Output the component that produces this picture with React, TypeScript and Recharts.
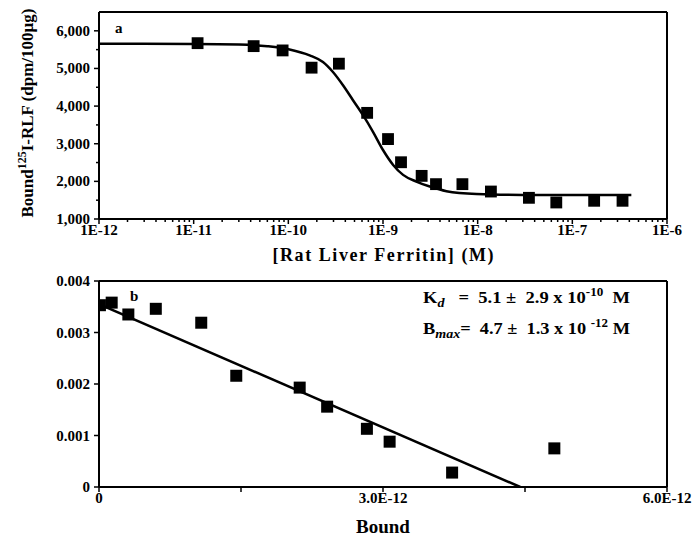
import React from "react";
import { ComposedChart, Scatter, Line, XAxis, YAxis, ZAxis, ReferenceLine } from "recharts";

// ---------- Panel a : displacement curve ----------
const ferritinConc = [1.1e-11, 4.3e-11, 8.7e-11, 1.76e-10, 3.42e-10, 6.8e-10, 1.13e-9, 1.55e-9, 2.56e-9, 3.63e-9, 6.9e-9, 1.38e-8, 3.48e-8, 6.77e-8, 1.7e-7, 3.39e-7];
const boundDpm = [5672, 5593, 5479, 5021, 5127, 3820, 3124, 2508, 2146, 1926, 1926, 1730, 1563, 1439, 1484, 1484];
const fitConc = [1e-12, 1e-11, 3e-11, 6e-11, 1.03e-10, 1.68e-10, 2.32e-10, 2.96e-10, 3.78e-10, 4.82e-10, 6.15e-10, 7.84e-10, 1.0e-9, 1.28e-9, 1.63e-9, 2.25e-9, 3.12e-9, 4.68e-9, 9.7e-9, 3e-8, 1e-7, 4.2e-7];
const fitDpm = [5655, 5650, 5635, 5590, 5505, 5347, 5170, 4905, 4553, 4156, 3759, 3317, 2833, 2437, 2172, 1995, 1862, 1740, 1665, 1640, 1635, 1635];
const topXMajor = [1e-12, 1e-11, 1e-10, 1e-9, 1e-8, 1e-7, 1e-6];
const topXLabels = ["1E-12", "1E-11", "1E-10", "1E-9", "1E-8", "1E-7", "1E-6"];
const topYMajor = [1000, 2000, 3000, 4000, 5000, 6000];
const topYLabels = ["1,000", "2,000", "3,000", "4,000", "5,000", "6,000"];
const topYMinor = [1500, 2500, 3500, 4500, 5500];

// ---------- Panel b : Scatchard ----------
const scatBound = [0.01e-12, 0.134e-12, 0.31e-12, 0.6e-12, 1.08e-12, 1.45e-12, 2.12e-12, 2.41e-12, 2.83e-12, 3.07e-12, 3.73e-12, 4.81e-12];
const scatRatio = [0.00353, 0.00358, 0.00335, 0.00346, 0.00319, 0.00216, 0.00193, 0.00156, 0.00113, 0.00088, 0.00028, 0.00075];
const fitBound = [0, 4.45e-12];
const fitRatio = [0.00355, 0];
const botXTicks = [0, 1.5e-12, 3e-12, 4.5e-12, 6e-12];
const botXLabels = ["0", "", "3.0E-12", "", "6.0E-12"];
const botYTicks = [0, 0.001, 0.002, 0.003, 0.004];
const botYLabels = ["0", "0.001", "0.002", "0.003", "0.004"];

const topPoints = ferritinConc.map((x, i) => ({ x, y: boundDpm[i] }));
const topFit = fitConc.map((x, i) => ({ x, y: fitDpm[i] }));
const botPoints = scatBound.map((x, i) => ({ x, y: scatRatio[i] }));
const botFit = fitBound.map((x, i) => ({ x, y: fitRatio[i] }));

const minorLog: number[] = [];
topXMajor.slice(0, 6).forEach((d) => {
  [2, 3, 4, 5, 6, 7, 8, 9].forEach((m) => minorLog.push(m * d));
});

const FONT = "'Liberation Serif', 'Times New Roman', serif";
const W = 696;

const isDecade = (v: number) => Math.abs(Math.log10(v) - Math.round(Math.log10(v))) < 1e-6;

const LogXTick = (props: any) => {
  const { x, y, payload } = props;
  const v = payload.value;
  const major = isDecade(v);
  const idx = topXMajor.findIndex((t) => Math.abs(Math.log10(t) - Math.log10(v)) < 1e-6);
  return (
    <g>
      <line x1={x} x2={x} y1={y} y2={y + (major ? 5 : 3)} stroke="#000" strokeWidth={1.5} />
      {major && idx >= 0 && (
        <text x={x} y={y + 16} textAnchor="middle" fontFamily={FONT} fontWeight="bold" fontSize={15} fill="#000">
          {topXLabels[idx]}
        </text>
      )}
    </g>
  );
};

const TopYTick = (props: any) => {
  const { x, y, payload } = props;
  const v = payload.value;
  const idx = topYMajor.indexOf(v);
  const major = idx >= 0;
  return (
    <g>
      <line x1={x} x2={x - (major ? 5 : 3)} y1={y} y2={y} stroke="#000" strokeWidth={1.5} />
      {major && (
        <text x={x - 9} y={y + 5} textAnchor="end" fontFamily={FONT} fontWeight="bold" fontSize={15} fill="#000">
          {topYLabels[idx]}
        </text>
      )}
    </g>
  );
};

const BotXTick = (props: any) => {
  const { x, y, payload } = props;
  const idx = botXTicks.findIndex((t) => Math.abs(t - payload.value) < 1e-15);
  return (
    <g>
      <line x1={x} x2={x} y1={y} y2={y + 5} stroke="#000" strokeWidth={1.5} />
      {idx >= 0 && botXLabels[idx] && (
        <text x={x} y={y + 16} textAnchor="middle" fontFamily={FONT} fontWeight="bold" fontSize={15} fill="#000">
          {botXLabels[idx]}
        </text>
      )}
    </g>
  );
};

const BotYTick = (props: any) => {
  const { x, y, payload } = props;
  const idx = botYTicks.findIndex((t) => Math.abs(t - payload.value) < 1e-9);
  return (
    <g>
      <line x1={x} x2={x - 5} y1={y} y2={y} stroke="#000" strokeWidth={1.5} />
      <text x={x - 9} y={y + 5} textAnchor="end" fontFamily={FONT} fontWeight="bold" fontSize={15} fill="#000">
        {idx >= 0 ? botYLabels[idx] : ""}
      </text>
    </g>
  );
};

const TopYLabel = () => (
  <text
    x={33}
    y={113}
    transform="rotate(-90, 33, 113)"
    textAnchor="middle"
    fontFamily={FONT}
    fontWeight="bold"
    fontSize={17}
    fill="#000"
  >
    Bound
    <tspan dy={-7} fontSize={12}>125</tspan>
    <tspan dy={7}>I-RLF (dpm/100µg)</tspan>
  </text>
);

const TopXLabel = () => (
  <text x={383} y={261} textAnchor="middle" fontFamily={FONT} fontWeight="bold" fontSize={18} fill="#000" textLength={221} lengthAdjust="spacing">
    [Rat Liver Ferritin] (M)
  </text>
);

const BotYLabel = () => (
  <text x={32} y={383} transform="rotate(-90, 32, 383)" textAnchor="middle" fontFamily={FONT} fontWeight="bold" fontSize={19} fill="#000">
    Bound/Free
  </text>
);

const BotXLabel = () => (
  <text x={383} y={265} textAnchor="middle" fontFamily={FONT} fontWeight="bold" fontSize={19} fill="#000">
    Bound
  </text>
);

export default function App() {
  return (
    <div style={{ position: "absolute", left: 0, top: 0, width: W, height: 537, background: "#fff", overflow: "hidden" }}>
      <div style={{ position: "absolute", left: 0, top: 0 }}>
        <ComposedChart width={W} height={272} margin={{ top: 12, right: 29, bottom: 0, left: 0 }}>
          <XAxis
            dataKey="x"
            type="number"
            scale="log"
            domain={[1e-12, 1e-6]}
            allowDataOverflow
            ticks={[...topXMajor, ...minorLog]}
            interval={0}
            height={53}
            stroke="#000"
            strokeWidth={2}
            tickLine={false}
            tickSize={0}
            tickMargin={0}
            tick={<LogXTick />}
          />
          <YAxis
            dataKey="y"
            type="number"
            domain={[1000, 6500]}
            allowDataOverflow
            ticks={[...topYMajor, ...topYMinor]}
            interval={0}
            width={99}
            stroke="#000"
            strokeWidth={2}
            tickLine={false}
            tickSize={0}
            tickMargin={0}
            tick={<TopYTick />}
          />
          <ZAxis range={[140, 140]} />
          <ReferenceLine y={6500} stroke="#000" strokeWidth={2} ifOverflow="visible" />
          <ReferenceLine x={1e-6} stroke="#000" strokeWidth={2} ifOverflow="visible" />
          <Line data={topFit} dataKey="y" type="monotone" stroke="#000" strokeWidth={2.5} dot={false} isAnimationActive={false} />
          <Scatter data={topPoints} dataKey="y" shape="square" fill="#000" isAnimationActive={false} />
        </ComposedChart>
        <svg width={W} height={272} style={{ position: "absolute", left: 0, top: 0, pointerEvents: "none" }}>
          <TopYLabel />
          <TopXLabel />
          <text x={115} y={33} fontFamily={FONT} fontWeight="bold" fontSize={15} fill="#000">a</text>
        </svg>
      </div>

      <div style={{ position: "absolute", left: 0, top: 268 }}>
        <ComposedChart width={W} height={269} margin={{ top: 13, right: 29, bottom: 0, left: 0 }}>
          <XAxis
            dataKey="x"
            type="number"
            domain={[0, 6e-12]}
            allowDataOverflow
            ticks={botXTicks}
            interval={0}
            height={50}
            stroke="#000"
            strokeWidth={2}
            tickLine={false}
            tickSize={0}
            tickMargin={0}
            tick={<BotXTick />}
          />
          <YAxis
            dataKey="y"
            type="number"
            domain={[0, 0.004]}
            allowDataOverflow
            ticks={botYTicks}
            interval={0}
            width={99}
            stroke="#000"
            strokeWidth={2}
            tickLine={false}
            tickSize={0}
            tickMargin={0}
            tick={<BotYTick />}
          />
          <ZAxis range={[144, 144]} />
          <ReferenceLine y={0.004} stroke="#000" strokeWidth={2} ifOverflow="visible" />
          <ReferenceLine x={6e-12} stroke="#000" strokeWidth={2} ifOverflow="visible" />
          <Line data={botFit} dataKey="y" type="linear" stroke="#000" strokeWidth={2.5} dot={false} isAnimationActive={false} />
          <Scatter data={botPoints} dataKey="y" shape="square" fill="#000" isAnimationActive={false} />
        </ComposedChart>
        <svg width={W} height={269} style={{ position: "absolute", left: 0, top: 0, pointerEvents: "none" }}>
          <BotYLabel />
          <BotXLabel />
          <text x={130} y={33} fontFamily={FONT} fontWeight="bold" fontSize={15} fill="#000">b</text>
          <text x={423} y={35} fontFamily={FONT} fontWeight="bold" fontSize={17} fill="#000" textLength={207} lengthAdjust="spacingAndGlyphs" style={{ whiteSpace: "pre" }}>
            K<tspan dy={4} fontSize={13} fontStyle="italic">d</tspan>
            <tspan dy={-4}>{"   =  5.1 ±  2.9 x 10"}</tspan>
            <tspan dy={-7} fontSize={12}>-10</tspan>
            <tspan dy={7}>{"  M"}</tspan>
          </text>
          <text x={423} y={66} fontFamily={FONT} fontWeight="bold" fontSize={17} fill="#000" textLength={207} lengthAdjust="spacingAndGlyphs" style={{ whiteSpace: "pre" }}>
            B<tspan dy={4} fontSize={13} fontStyle="italic">max</tspan>
            <tspan dy={-4}>{"=  4.7 ±  1.3 x 10 "}</tspan>
            <tspan dy={-7} fontSize={12}>-12</tspan>
            <tspan dy={7}>{" M"}</tspan>
          </text>
        </svg>
      </div>
    </div>
  );
}
